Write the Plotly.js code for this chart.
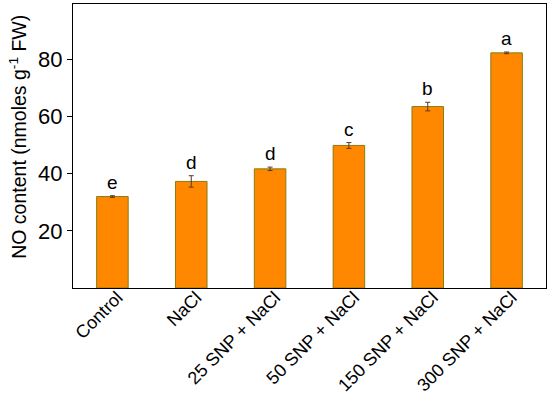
<!DOCTYPE html>
<html><head><meta charset="utf-8">
<script src="https://cdn.plot.ly/plotly-3.0.1.min.js"></script>
<style>body{margin:0;background:#fff}#c{width:550px;height:394px}</style>
</head><body><div id="c"></div>
<script>
var categories = ["Control","NaCl","25 SNP + NaCl","50 SNP + NaCl","150 SNP + NaCl","300 SNP + NaCl"];
var values = [32.0, 37.3, 41.7, 49.9, 63.5, 82.3];
var errors = [0.3, 2.0, 0.6, 1.0, 1.5, 0.3];
var letters = ["e","d","d","c","b","a"];
var tickVals = [20, 40, 60, 80];
var yTitle = "NO content (nmoles g<sup>-1</sup> FW)";

var FONT = "Liberation Sans, Arial, sans-serif";
var trace = {
  type: "bar", x: categories, y: values, width: 0.4,
  marker: {color: "#ff8800", line: {color: "#8a7a10", width: 1}},
  error_y: {type: "data", array: errors, visible: true, color: "#5a3a20", thickness: 1, width: 2.5}
};
var ann = categories.map(function(c, i){
  return {x: c, y: values[i] + errors[i], text: letters[i], showarrow: false,
    yanchor: "bottom", yshift: 1, font: {size: 19, color: "#000", family: FONT}};
});
ann.push({xref: "paper", yref: "paper", x: -0.118, y: 0.533, text: yTitle, textangle: -90,
  showarrow: false, xanchor: "center", yanchor: "middle", font: {size: 19.5, color: "#000", family: FONT}});
var layout = {
  width: 550, height: 394,
  margin: {l: 73, r: 4, t: 4, b: 106},
  paper_bgcolor: "#fff", plot_bgcolor: "#fff",
  font: {family: FONT, color: "#000"},
  showlegend: false,
  xaxis: {range: [-0.5, 5.5], showline: true, linecolor: "#000", linewidth: 1, mirror: true,
    ticks: "", tickangle: -45, tickfont: {size: 18}, showgrid: false, zeroline: false,
    ticklabelstandoff: -9, ticklabelshift: 5},
  yaxis: {range: [0, 99.4], showline: true, linecolor: "#000", linewidth: 1, mirror: true,
    tickvals: tickVals, ticks: "outside", ticklen: 5, tickcolor: "#000", tickfont: {size: 22},
    showgrid: false, zeroline: false},
  annotations: ann
};
Plotly.newPlot("c", [trace], layout, {displayModeBar: false, staticPlot: true});
</script></body></html>
